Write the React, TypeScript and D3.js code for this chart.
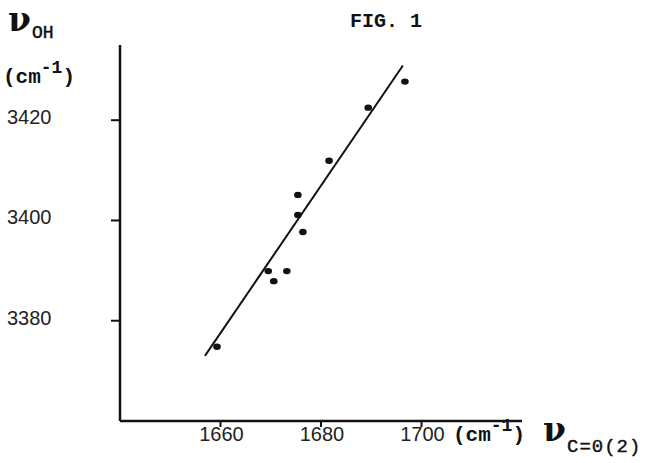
import React from 'react';
import * as d3 from 'd3';

// values
const freqCO = [1659.3, 1669.5, 1670.6, 1673.2, 1675.4, 1675.4, 1676.4, 1681.6, 1689.4, 1696.7];
const freqOH = [3374.8, 3389.9, 3387.9, 3389.9, 3405.1, 3401.1, 3397.7, 3411.9, 3422.5, 3427.7];

// ends of the fitted line
const fitCO = [1656.9, 1696.3];
const fitOH = [3373.0, 3430.9];

const xTicks = [1660, 1680, 1700];
const yTicks = [3380, 3400, 3420];

const W = 651;
const H = 463;

export default function App() {
  const x = d3.scaleLinear().domain([1640, 1720]).range([120, 522]);
  const y = d3.scaleLinear().domain([3360, 3435]).range([421, 45]);

  const pts = freqCO.map((v, i) => ({ x: v, y: freqOH[i] }));
  const fit = fitCO.map((v, i) => ({ x: v, y: fitOH[i] }));
  const line = d3.line<{ x: number; y: number }>()
    .x(d => x(d.x))
    .y(d => y(d.y));

  const mono = '"Liberation Mono", "DejaVu Sans Mono", monospace';
  const sans = '"Liberation Sans", "DejaVu Sans", sans-serif';
  const greek = '"DejaVu Serif", "Liberation Serif", serif';

  return (
    <svg width={W} height={H} style={{ position: 'absolute', left: 0, top: 0, background: '#fff' }}>
      {/* title */}
      <text x={386} y={27} textAnchor="middle" fontFamily={mono} fontWeight="bold" fontSize={20} fill="#111">
        FIG. 1
      </text>

      {/* y axis label */}
      <text x={8} y={31} fontFamily={greek} fontWeight="bold" fontSize={33} fill="#111">ν</text>
      <text x={32} y={38} fontFamily={mono} fontSize={18} fill="#111" stroke="#111" strokeWidth={0.5}>OH</text>
      <text x={3} y={83} fontFamily={mono} fontWeight="bold" fontSize={21} fill="#111">
        (cm<tspan dy={-10} fontSize={18}>-1</tspan><tspan dy={10}>)</tspan>
      </text>

      {/* axes */}
      <line x1={x(1640)} x2={x(1640)} y1={y(3435)} y2={y(3360)} stroke="#111" strokeWidth={2.5} />
      <line x1={x(1640)} x2={x(1720)} y1={y(3360)} y2={y(3360)} stroke="#111" strokeWidth={2.5} />

      {yTicks.map(t => (
        <g key={t}>
          <line x1={x(1640) - 9} x2={x(1640)} y1={y(t)} y2={y(t)} stroke="#111" strokeWidth={2} />
          <text x={7} y={y(t) + 4} fontFamily={sans} fontSize={20} fill="#222">{t}</text>
        </g>
      ))}

      {xTicks.map(t => (
        <g key={t}>
          <line x1={x(t)} x2={x(t)} y1={y(3360)} y2={y(3360) + 6} stroke="#111" strokeWidth={2} />
          <text x={x(t) + 1} y={y(3360) + 20} textAnchor="middle" fontFamily={sans} fontSize={20} fill="#222">{t}</text>
        </g>
      ))}

      {/* x axis label */}
      <text x={453} y={441} fontFamily={mono} fontWeight="bold" fontSize={21} fill="#111">
        (cm<tspan dy={-10} fontSize={18}>-1</tspan><tspan dy={10}>)</tspan>
      </text>
      <text x={543} y={441} fontFamily={greek} fontWeight="bold" fontSize={33} fill="#111">ν</text>
      <text x={567} y={452} fontFamily={mono} fontSize={19} letterSpacing={1} fill="#111" stroke="#111" strokeWidth={0.4}>C=0(2)</text>

      {/* fitted line */}
      <path d={line(fit) || ''} fill="none" stroke="#111" strokeWidth={2} />

      {/* points */}
      {pts.map((d, i) => (
        <ellipse key={i} cx={x(d.x)} cy={y(d.y)} rx={3.8} ry={3.2} fill="#111" />
      ))}
    </svg>
  );
}
